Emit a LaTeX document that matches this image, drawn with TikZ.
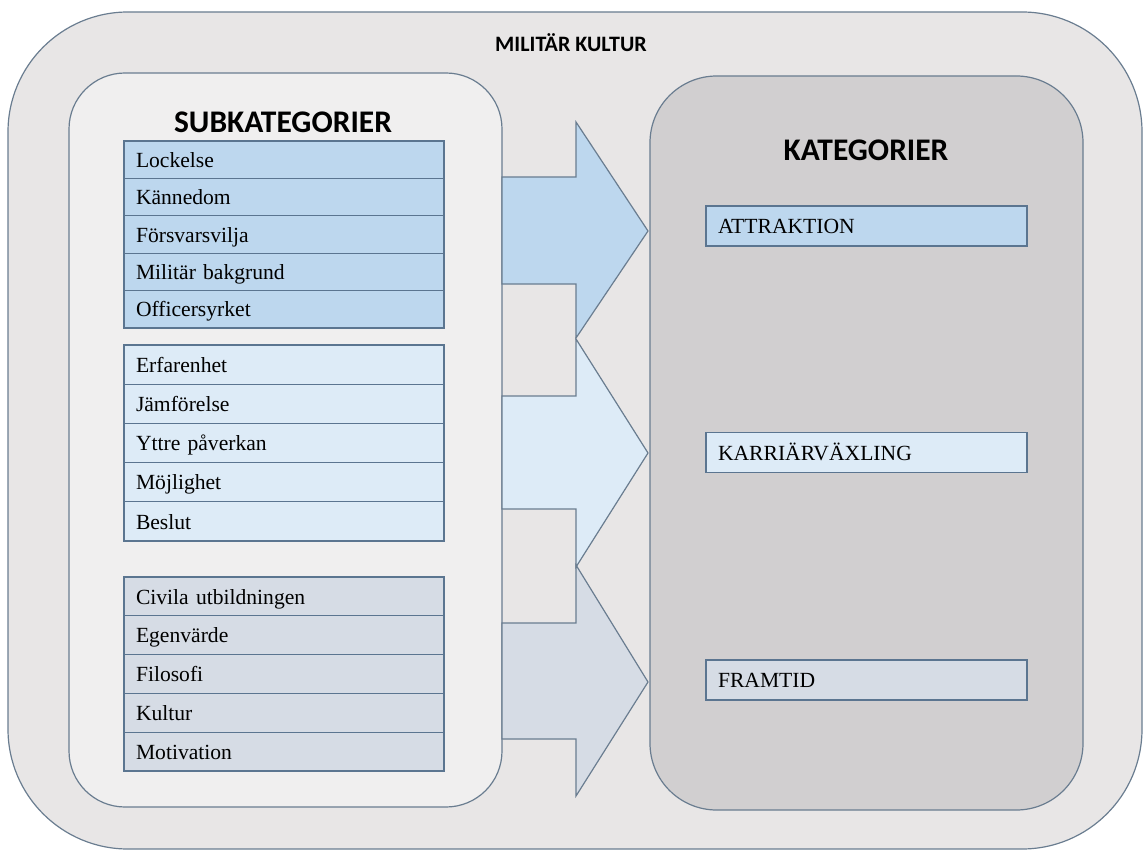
\documentclass[tikz,border=0pt]{standalone}
\usepackage{fontspec}
\setmainfont{Liberation Serif}
\newfontfamily\headfont{Carlito}
\usetikzlibrary{positioning}

\definecolor{rimline}{HTML}{6A7D90}
\definecolor{rowline}{HTML}{5B7590}
\definecolor{outerfill}{HTML}{E8E6E6}
\definecolor{leftfill}{HTML}{F0EFEF}
\definecolor{rightfill}{HTML}{D1CFD0}
\definecolor{blueA}{HTML}{BDD7EE}
\definecolor{blueB}{HTML}{DDEBF7}
\definecolor{blueC}{HTML}{D6DCE5}

\tikzset{
    panel/.style={draw=rimline, line width=0.9pt},
    blockarrow/.style={draw=rimline, line width=0.9pt, line join=miter},
    subrow/.style={draw=rowline, line width=0.9pt, outer sep=0pt,
        minimum width=240pt, minimum height=#1, text width=222pt,
        align=left, inner xsep=9pt, inner ysep=0pt,
        text height=11.5pt, text depth=0pt,
        font=\fontsize{16.2}{18}\selectfont},
    katbox/.style={subrow=30pt, minimum width=240.75pt, text width=222.75pt},
    rubrik/.style={font=\headfont\bfseries\fontsize{23.6}{26}\selectfont}
}

\begin{document}
\begin{tikzpicture}[x=0.75pt, y=-0.75pt]

    \useasboundingbox (0,0) rectangle (1145,852);

    \def\arrowL{502}
    \def\arrowM{576}
    \def\arrowR{648}

    \coordinate (outerNW) at (8,12);
    \coordinate (outerSE) at (1142,849);
    \coordinate (leftNW) at (69,73);
    \coordinate (leftSE) at (502,807);
    \coordinate (rightNW) at (650,76);
    \coordinate (rightSE) at (1083,810);

    % Ramar
    \draw[panel, fill=outerfill, rounded corners=90pt] (outerNW) rectangle (outerSE);
    \draw[panel, fill=leftfill, rounded corners=42pt] (leftNW) rectangle (leftSE);
    \draw[panel, fill=rightfill, rounded corners=50pt] (rightNW) rectangle (rightSE);

    % Pilar
    \draw[blockarrow, fill=blueA]
             (\arrowL,177) -- (\arrowM,177) -- (\arrowM,122) -- (\arrowR,231)
          -- (\arrowM,338) -- (\arrowM,284) -- (\arrowL,284) -- cycle;
    \draw[blockarrow, fill=blueB]
             (\arrowL,396) -- (\arrowM,396) -- (\arrowM,339) -- (\arrowR,453)
          -- (\arrowM,567) -- (\arrowM,509) -- (\arrowL,509) -- cycle;
    \draw[blockarrow, fill=blueC]
             (\arrowL,623) -- (\arrowM,623) -- (\arrowM,565) -- (\arrowR,682)
          -- (\arrowM,796) -- (\arrowM,739) -- (\arrowL,739) -- cycle;

    % Rubriker
    \node[font=\headfont\bfseries\fontsize{16.5}{20}\selectfont, anchor=base] (titel) at (571,52) {MILITÄR KULTUR};
    \node[rubrik, anchor=base] (subrubrik) at (283,133) {SUBKATEGORIER};
    \node[rubrik, anchor=base] (katrubrik) at (866,161) {KATEGORIER};

    % Subkategorier
    \node[subrow=28.05pt, fill=blueA, anchor=north] (lockelse) at (284,141) {Lockelse};
    \node[subrow=28.05pt, fill=blueA, below=0pt of lockelse] (kannedom) {Kännedom};
    \node[subrow=28.05pt, fill=blueA, below=0pt of kannedom] (forsvar) {Försvarsvilja};
    \node[subrow=28.05pt, fill=blueA, below=0pt of forsvar] (bakgrund) {Militär bakgrund};
    \node[subrow=28.05pt, fill=blueA, below=0pt of bakgrund] (officer) {Officersyrket};

    \node[subrow=29.4pt, fill=blueB, anchor=north] (erfarenhet) at (284,345) {Erfarenhet};
    \node[subrow=29.4pt, fill=blueB, below=0pt of erfarenhet] (jamforelse) {Jämförelse};
    \node[subrow=29.4pt, fill=blueB, below=0pt of jamforelse] (paverkan) {Yttre påverkan};
    \node[subrow=29.4pt, fill=blueB, below=0pt of paverkan] (mojlighet) {Möjlighet};
    \node[subrow=29.4pt, fill=blueB, below=0pt of mojlighet] (beslut) {Beslut};

    \node[subrow=29.1pt, fill=blueC, anchor=north] (civila) at (284,577) {Civila utbildningen};
    \node[subrow=29.1pt, fill=blueC, below=0pt of civila] (egenvarde) {Egenvärde};
    \node[subrow=29.1pt, fill=blueC, below=0pt of egenvarde] (filosofi) {Filosofi};
    \node[subrow=29.1pt, fill=blueC, below=0pt of filosofi] (kultur) {Kultur};
    \node[subrow=29.1pt, fill=blueC, below=0pt of kultur] (motivation) {Motivation};

    % Kategorier
    \node[katbox, fill=blueA] (attraktion) at (866.5,226) {ATTRAKTION};
    \node[katbox, fill=blueB] (karriar) at (866.5,452.5) {KARRIÄRVÄXLING};
    \node[katbox, fill=blueC] (framtid) at (866.5,680) {FRAMTID};

\end{tikzpicture}
\end{document}
